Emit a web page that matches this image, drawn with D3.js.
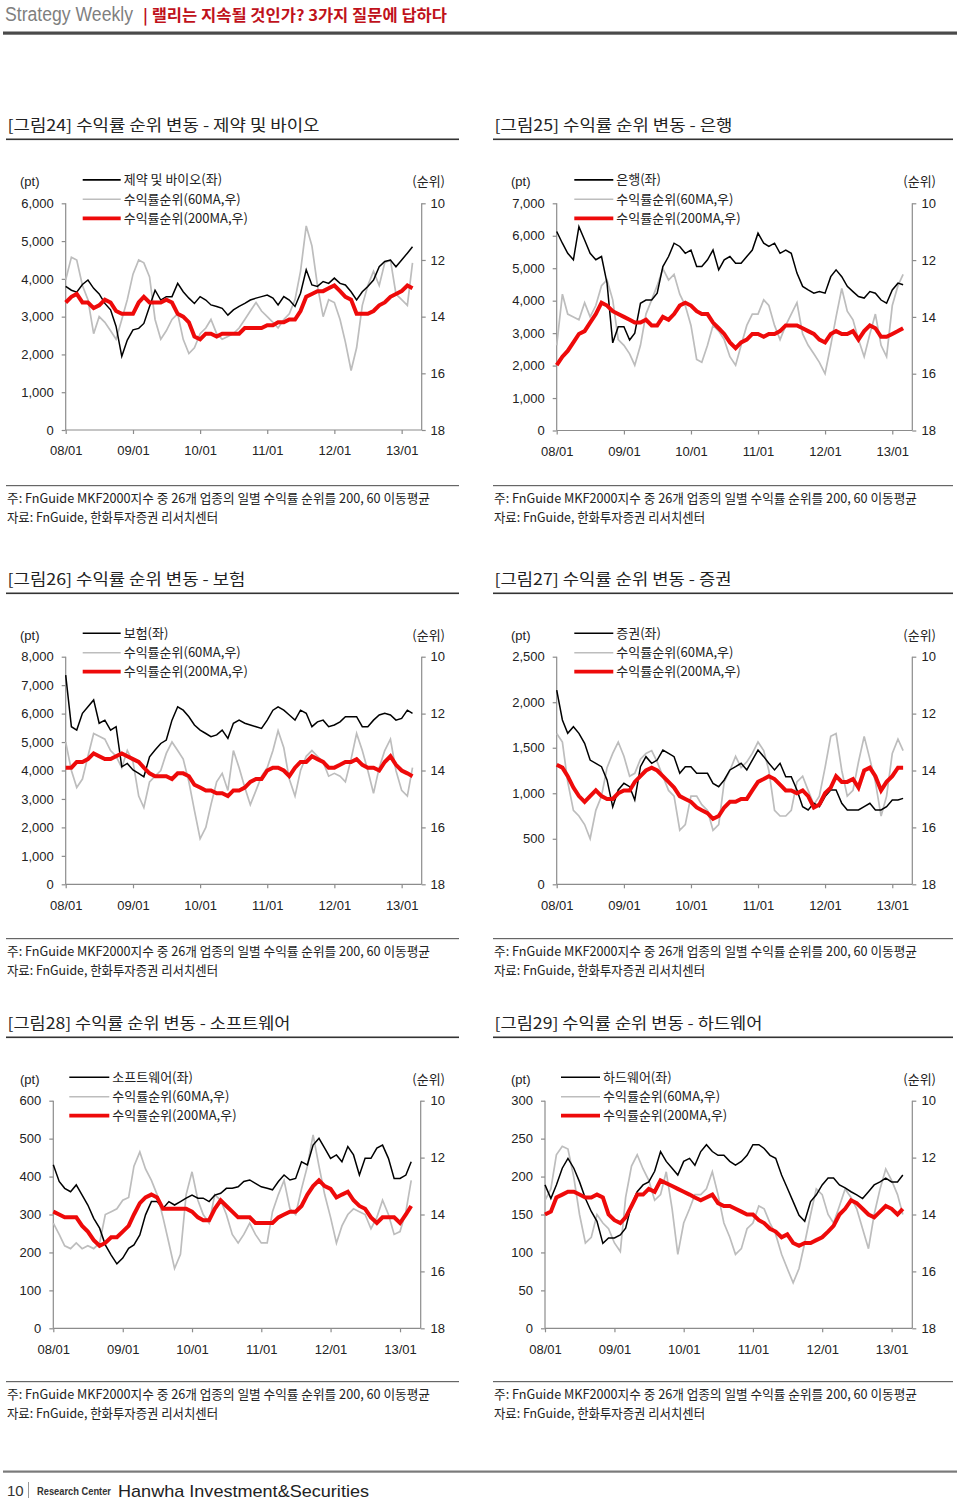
<!DOCTYPE html>
<html><head><meta charset="utf-8">
<script src="https://cdn.jsdelivr.net/npm/d3@7"></script>
<style>
body{margin:0;background:#fff}
svg{display:block}
text{font-family:"Liberation Sans",Arial,"Noto Sans CJK KR",sans-serif}
.kr{font-family:"Noto Sans CJK KR","Liberation Sans",sans-serif}
</style>
</head><body>
<svg id="c" width="960" height="1501"></svg>
<script>
// ---------- DATA (monthly readings, Jan 2008 – Mar 2013) ----------
const xTickLabels = ["08/01","09/01","10/01","11/01","12/01","13/01"];
const rankTicks = [10,12,14,16,18];

const pharmaIndex = [3800,3700,3650,3850,3970,3750,3600,3350,3180,2740,1950,2380,
2650,2690,2820,3270,3700,3440,3530,3530,3880,3660,3490,3350,
3530,3440,3310,3270,3220,3040,3180,3270,3350,3440,3490,3530,
3570,3490,3310,3530,3440,3270,3620,4240,3840,3800,3930,3880,
4020,3880,3840,3660,3440,3660,3800,3970,4320,4460,4500,4320,
4500,4680,4850];
const pharmaRank60 = [12.7,11.9,12.0,12.9,13.4,14.6,14.0,14.2,14.5,14.8,14.1,13.4,
12.5,12.0,12.1,12.6,14.1,14.8,14.5,14.1,13.9,14.8,15.3,15.1,
14.6,14.4,14.1,14.6,14.8,14.7,14.6,14.4,14.1,13.8,13.5,13.8,
14.0,14.2,14.4,14.1,13.9,13.4,12.4,10.8,11.5,12.9,14.0,13.4,
13.5,14.1,14.9,15.9,15.1,13.6,12.9,12.4,12.9,12.1,12.0,13.2,
13.4,13.6,12.1];
const pharmaRank200 = [13.5,13.3,13.2,13.5,13.5,13.7,13.6,13.4,13.5,13.8,13.9,13.9,
13.9,13.5,13.3,13.5,13.5,13.5,13.4,13.5,13.9,14.0,14.2,14.7,
14.8,14.6,14.6,14.7,14.6,14.6,14.6,14.6,14.4,14.4,14.4,14.4,
14.3,14.3,14.2,14.2,14.1,14.1,13.8,13.3,13.2,13.1,13.1,13.0,
12.9,13.1,13.3,13.4,13.9,13.9,13.9,13.8,13.6,13.5,13.3,13.2,
13.1,12.9,13.0];

const bankIndex = [6130,5770,5460,5260,6280,5870,5460,5260,5360,4540,2700,3200,
3200,2790,3000,3920,4020,4020,4230,5050,5360,5770,5670,5460,
5560,5050,5050,5260,5560,4950,5260,5360,5150,5150,5360,5560,
6080,5770,5670,5770,5460,5560,5460,4850,4440,4330,4230,4280,
4230,4740,4950,4740,4440,4280,4130,4080,4280,4230,4020,3920,
4330,4540,4490];
const bankRank60 = [15.0,13.2,13.9,14.0,14.1,13.5,14.0,13.6,12.9,12.7,13.4,14.8,
15.0,15.3,15.7,15.0,13.9,13.4,12.9,12.3,12.7,12.5,13.2,13.6,
14.3,15.5,15.6,15.0,14.3,14.5,14.8,15.4,15.7,15.0,14.3,13.9,
13.9,13.4,13.6,14.3,14.8,14.3,13.9,13.5,14.6,15.0,15.3,15.6,
16.0,15.0,14.0,13.0,13.8,14.1,14.8,15.4,14.6,13.9,15.0,15.4,
13.6,12.9,12.5];
const bankRank200 = [15.7,15.4,15.2,14.9,14.6,14.5,14.2,13.9,13.5,13.6,13.8,13.9,
14.0,14.1,14.2,14.2,14.1,14.3,14.3,14.0,14.1,13.9,13.6,13.5,
13.6,13.8,13.9,13.9,14.2,14.4,14.6,14.9,15.1,14.9,14.8,14.6,
14.6,14.7,14.6,14.6,14.5,14.3,14.3,14.3,14.4,14.5,14.6,14.8,
14.9,14.6,14.5,14.6,14.6,14.5,14.8,14.5,14.3,14.4,14.7,14.7,
14.6,14.5,14.4];

const insIndex = [7350,5540,5420,6010,6240,6480,5660,5770,5420,5540,4130,4250,
4020,3900,3780,4480,4720,4950,5070,5770,6240,6120,5890,5600,
5420,5300,5190,5250,5420,5130,5660,5770,5660,5600,5540,5480,
5770,6120,6240,6120,5950,5770,6120,6010,5540,5710,5770,5540,
5600,5710,5890,5890,5890,5540,5540,5770,5950,6010,5950,5770,
5830,6120,6010];
const insRank60 = [13.0,14.0,14.6,14.3,13.5,12.7,12.8,12.9,13.3,13.5,13.9,13.3,
13.7,14.9,15.3,14.4,14.2,14.0,13.4,13.0,13.3,13.6,14.4,15.4,
16.4,16.0,15.2,14.4,14.1,14.7,13.3,13.9,14.6,15.2,14.7,14.2,
13.9,13.3,12.6,13.2,14.3,14.9,14.0,13.5,13.3,13.5,13.7,14.2,
14.1,14.2,14.4,13.6,12.7,13.3,14.0,14.8,13.9,13.3,12.9,14.0,
14.7,14.9,13.9];
const insRank200 = [13.9,13.9,13.7,13.7,13.6,13.4,13.5,13.6,13.6,13.5,13.4,13.5,
13.6,13.7,13.9,14.1,14.2,14.2,14.2,14.3,14.1,14.1,14.2,14.5,
14.6,14.7,14.7,14.8,14.8,14.9,14.7,14.7,14.6,14.4,14.3,14.3,
14.0,13.9,13.9,14.0,14.2,13.9,13.7,13.7,13.5,13.6,13.7,13.9,
13.9,13.8,13.7,13.7,13.6,13.8,13.9,13.9,14.0,13.7,13.5,13.8,
14.0,14.1,14.2];

const secIndex = [2134,1805,1658,1731,1658,1548,1365,1329,1292,1146,850,1036,
1109,1072,926,1292,1402,1329,1365,1475,1438,1402,1219,1292,
1292,1219,1219,1219,1109,1072,1146,1256,1292,1329,1256,1365,
1475,1402,1329,1256,1329,1182,1182,1036,853,816,890,853,
963,1036,1036,890,816,816,816,853,890,816,816,853,
926,926,944];
const secRank60 = [12.7,13.0,14.4,15.4,15.6,15.9,16.4,15.4,14.9,13.9,13.4,13.0,
13.5,14.2,14.1,13.6,13.4,13.3,13.7,14.2,14.7,14.9,16.1,15.9,
14.9,14.9,15.2,15.4,16.1,15.9,14.4,14.0,13.5,13.9,13.7,13.4,
13.0,13.3,14.0,15.4,15.6,15.6,15.4,14.4,14.2,14.7,15.2,14.9,
13.9,12.8,12.7,14.0,14.9,14.7,13.7,12.8,13.6,14.4,15.6,14.9,
13.4,12.9,13.3];
const secRank200 = [13.8,13.9,14.2,14.6,14.9,15.1,14.9,14.7,14.9,15.0,15.0,14.8,
14.7,14.7,14.4,14.2,14.0,13.9,14.0,14.2,14.4,14.6,14.9,15.0,
15.1,15.3,15.4,15.5,15.7,15.6,15.3,15.1,15.1,15.0,15.0,14.7,
14.4,14.3,14.2,14.3,14.5,14.7,14.7,14.8,14.7,14.9,15.3,15.2,
14.8,14.6,14.2,14.4,14.4,14.3,14.6,14.0,13.9,14.2,14.7,14.4,
14.2,13.9,13.9];

const swIndex = [431,387,369,360,378,351,325,290,264,220,193,170,
185,211,220,246,299,334,334,316,334,325,334,343,
351,343,343,334,351,356,369,369,373,387,391,382,
373,369,365,387,404,391,395,439,431,483,501,475,
448,457,439,479,457,404,448,448,475,483,448,395,
395,404,439];
const swRank60 = [14.3,14.7,15.1,15.2,15.0,15.2,15.1,15.2,15.0,14.0,13.9,13.8,
13.5,13.4,12.3,11.8,12.4,12.8,13.3,14.1,15.0,15.9,15.4,13.3,
12.5,13.5,14.0,14.3,13.3,13.5,14.0,14.7,15.0,14.7,14.3,14.7,
15.0,15.0,13.9,13.3,12.8,13.8,14.0,13.1,12.3,11.2,12.3,13.3,
14.1,15.0,14.4,14.0,13.8,13.9,14.0,14.5,14.1,13.5,14.0,14.7,
14.6,13.9,12.8];
const swRank200 = [13.9,14.0,14.1,14.1,14.1,14.4,14.6,14.9,15.1,15.0,14.8,14.8,
14.6,14.4,14.0,13.6,13.4,13.3,13.4,13.8,13.8,13.8,13.8,13.8,
13.9,14.1,14.2,14.2,13.8,13.5,13.7,13.9,14.1,14.1,14.1,14.3,
14.3,14.3,14.3,14.1,14.0,13.9,13.9,13.7,13.3,13.0,12.8,13.0,
13.1,13.4,13.3,13.2,13.5,13.7,13.8,14.1,14.3,14.1,14.1,14.1,
14.3,14.0,13.7];

const hwIndex = [189,171,189,211,224,211,193,171,154,141,112,119,
119,123,132,163,180,189,193,207,233,220,211,202,
220,224,215,233,242,233,228,228,220,215,220,228,
242,242,237,228,224,202,185,167,149,141,167,176,
189,198,198,189,185,180,176,171,180,189,193,198,
193,193,202];
const hwRank60 = [13.5,13.1,11.9,11.6,11.7,12.7,14.0,15.0,14.8,14.0,14.3,14.5,
15.0,15.3,13.4,12.3,11.9,12.4,12.8,13.5,13.3,12.5,13.8,15.4,
14.3,13.8,13.3,13.3,13.1,12.5,13.3,14.3,14.8,15.4,15.2,14.5,
14.3,13.7,13.8,14.3,14.7,15.4,15.9,16.4,15.9,15.0,14.0,13.1,
13.3,14.0,14.3,13.7,13.1,13.4,13.8,14.5,15.2,14.0,13.1,12.4,
12.8,13.3,14.0];
const hwRank200 = [14.0,13.9,13.4,13.3,13.2,13.2,13.3,13.4,13.4,13.3,13.4,14.0,
14.2,14.3,14.1,13.7,13.3,13.3,13.1,13.2,12.8,12.9,13.0,13.1,
13.2,13.3,13.4,13.5,13.4,13.3,13.6,13.7,13.7,13.8,13.9,14.0,
14.0,14.2,14.3,14.5,14.6,14.8,14.7,15.0,15.1,15.0,15.0,14.9,
14.8,14.6,14.4,14.0,13.8,13.5,13.6,13.8,14.0,14.1,13.9,13.7,
13.8,14.0,13.8];

const noteText = "주: FnGuide MKF2000지수 중 26개 업종의 일별 수익률 순위를 200, 60 이동평균";
const sourceText = "자료: FnGuide, 한화투자증권 리서치센터";
const legend60 = "수익률순위(60MA,우)";
const legend200 = "수익률순위(200MA,우)";

// ---------- LAYOUT ----------
const svg = d3.select("#c");
svg.append("rect").attr("width",960).attr("height",1501).attr("fill","#fff");

// header
svg.append("text").attr("x",5).attr("y",21).attr("font-size",19.5).attr("fill","#7f7f7f")
  .attr("textLength",128).attr("lengthAdjust","spacingAndGlyphs").text("Strategy Weekly");
svg.append("text").attr("class","kr").attr("x",143).attr("y",21).attr("font-size",15.5)
  .attr("font-weight","bold").attr("fill","#c0121b")
  .attr("textLength",304).attr("lengthAdjust","spacingAndGlyphs")
  .text("| 랠리는 지속될 것인가? 3가지 질문에 답하다");
svg.append("rect").attr("x",3).attr("y",31.5).attr("width",954).attr("height",3.2).attr("fill","#4a4a4a");

// footer
svg.append("rect").attr("x",3).attr("y",1470.5).attr("width",954).attr("height",2.2).attr("fill","#7a7a7a");
svg.append("text").attr("x",7).attr("y",1496).attr("font-size",15).attr("fill","#333").text("10");
svg.append("line").attr("x1",28.5).attr("x2",28.5).attr("y1",1482).attr("y2",1498).attr("stroke","#999");
svg.append("text").attr("x",37).attr("y",1495).attr("font-size",10.5).attr("font-weight","bold")
  .attr("fill","#333").attr("textLength",74).attr("lengthAdjust","spacingAndGlyphs").text("Research Center");
svg.append("text").attr("x",118).attr("y",1497).attr("font-size",17).attr("fill","#222")
  .attr("textLength",251).attr("lengthAdjust","spacingAndGlyphs").text("Hanwha Investment&Securities");

const cols = [{x0:6, w:453, ptX:20, rankR:445}, {x0:493, w:460, ptX:511, rankR:936}];
const rows = [{title:125, note:485}, {title:579, note:938}, {title:1023, note:1381}];

const panels = [
  {col:0,row:0,title:"[그림24]  수익률 순위 변동 - 제약 및 바이오",tLen:312,name:"제약 및 바이오(좌)",
   idx:pharmaIndex,r60:pharmaRank60,r200:pharmaRank200,ymax:6000,ystep:1000,
   L:65.7,R:421.7,T:203.3,B:430,lx1:82.7,lx2:120.7},
  {col:1,row:0,title:"[그림25]  수익률 순위 변동 - 은행",tLen:238,name:"은행(좌)",
   idx:bankIndex,r60:bankRank60,r200:bankRank200,ymax:7000,ystep:1000,
   L:556.7,R:912.3,T:203.3,B:430.5,lx1:574.3,lx2:613.3},
  {col:0,row:1,title:"[그림26]  수익률 순위 변동 - 보험",tLen:238,name:"보험(좌)",
   idx:insIndex,r60:insRank60,r200:insRank200,ymax:8000,ystep:1000,
   L:65.7,R:421.7,T:656.7,B:884.3,lx1:82.7,lx2:120.7},
  {col:1,row:1,title:"[그림27]  수익률 순위 변동 - 증권",tLen:237,name:"증권(좌)",
   idx:secIndex,r60:secRank60,r200:secRank200,ymax:2500,ystep:500,
   L:556.7,R:912.3,T:656.7,B:884.3,lx1:574.3,lx2:613.3},
  {col:0,row:2,title:"[그림28]  수익률 순위 변동 - 소프트웨어",tLen:283,name:"소프트웨어(좌)",
   idx:swIndex,r60:swRank60,r200:swRank200,ymax:600,ystep:100,
   L:53.3,R:420.7,T:1100.7,B:1328.3,lx1:69.3,lx2:109.3},
  {col:1,row:2,title:"[그림29]  수익률 순위 변동 - 하드웨어",tLen:268,name:"하드웨어(좌)",
   idx:hwIndex,r60:hwRank60,r200:hwRank200,ymax:300,ystep:50,
   L:545,R:912.3,T:1100.7,B:1328.3,lx1:561,lx2:600}
];

const dates = d3.timeMonth.range(new Date(2008,0,1), new Date(2013,3,1));
const xTickDates = xTickLabels.map((l,i)=>new Date(2008+i,0,1));
const axisCol = "#8c8c8c";

panels.forEach(p=>{
  const c = cols[p.col], r = rows[p.row];
  const g = svg.append("g");
  // title + underline
  g.append("text").attr("class","kr").attr("x",c.x0+1.5).attr("y",r.title+6).attr("font-size",15.5)
    .attr("fill","#222").attr("textLength",p.tLen).attr("lengthAdjust","spacingAndGlyphs").text(p.title);
  g.append("rect").attr("x",c.x0).attr("y",r.title+13.5).attr("width",c.w).attr("height",1.6).attr("fill","#333");
  // notes
  g.append("rect").attr("x",c.x0).attr("y",r.note).attr("width",c.w).attr("height",1.2).attr("fill","#666");
  g.append("text").attr("class","kr").attr("x",c.x0+1).attr("y",r.note+18).attr("font-size",13)
    .attr("fill","#222").attr("textLength",423).attr("lengthAdjust","spacingAndGlyphs").text(noteText);
  g.append("text").attr("class","kr").attr("x",c.x0+1).attr("y",r.note+37).attr("font-size",13)
    .attr("fill","#222").attr("textLength",211).attr("lengthAdjust","spacingAndGlyphs").text(sourceText);

  // scales
  const x = d3.scaleTime().domain([new Date(2008,0,1), new Date(2013,3,20)]).range([p.L,p.R]);
  const yL = d3.scaleLinear().domain([0,p.ymax]).range([p.B,p.T]);
  const yR = d3.scaleLinear().domain([10,18]).range([p.T,p.B]);

  // left axis
  const leftTicks = d3.range(0,p.ymax+1,p.ystep);
  const ax = g.append("g").attr("transform",`translate(${p.L},0)`)
    .call(d3.axisLeft(yL).tickValues(leftTicks).tickSize(4).tickPadding(8).tickFormat(d3.format(",")));
  // right axis
  const ar = g.append("g").attr("transform",`translate(${p.R},0)`)
    .call(d3.axisRight(yR).tickValues(rankTicks).tickSize(4).tickPadding(0).tickFormat(d3.format("d")));
  ar.selectAll("text").attr("text-anchor","end").attr("x",c.rankR-p.R);
  // bottom axis
  const ab = g.append("g").attr("transform",`translate(0,${p.B})`)
    .call(d3.axisBottom(x).tickValues(xTickDates).tickSize(4).tickPadding(12)
      .tickFormat((d,i)=>xTickLabels[i]));
  [ax,ar,ab].forEach(a=>{
    a.selectAll("path.domain").attr("stroke",axisCol).attr("stroke-width",1.2);
    a.selectAll(".tick line").attr("stroke",axisCol).attr("stroke-width",1.2);
    a.selectAll("text").attr("font-size",13).attr("fill","#222")
      .attr("font-family","'Liberation Sans',Arial,sans-serif");
  });
  ab.selectAll("path.domain").attr("d",`M${p.L},0H${p.R}`);
  ax.selectAll("path.domain").attr("d",`M0,${p.T}V${p.B}`);
  ar.selectAll("path.domain").attr("d",`M0,${p.T}V${p.B}`);

  // unit labels
  g.append("text").attr("x",c.ptX).attr("y",p.T-17).attr("font-size",13).attr("fill","#222").text("(pt)");
  g.append("text").attr("class","kr").attr("x",c.rankR).attr("y",p.T-17).attr("font-size",13)
    .attr("text-anchor","end").attr("fill","#222").text("(순위)");

  // lines
  const lineL = d3.line().x((d,i)=>x(dates[i])).y(d=>yL(d));
  const lineR = d3.line().x((d,i)=>x(dates[i])).y(d=>yR(d));
  g.append("path").datum(p.r60).attr("d",lineR).attr("fill","none").attr("stroke","#bdbdbd").attr("stroke-width",1.7);
  g.append("path").datum(p.idx).attr("d",lineL).attr("fill","none").attr("stroke","#000").attr("stroke-width",1.5);
  g.append("path").datum(p.r200).attr("d",lineR).attr("fill","none").attr("stroke","#ee0a0a").attr("stroke-width",4);

  // legend
  const leg = [{t:p.name,c:"#000",w:1.6,dy:-23.4},{t:legend60,c:"#bdbdbd",w:1.6,dy:-4},{t:legend200,c:"#ee0a0a",w:3.8,dy:15}];
  leg.forEach(l=>{
    const yy = p.T + l.dy;
    g.append("line").attr("x1",p.lx1).attr("x2",p.lx2).attr("y1",yy).attr("y2",yy)
      .attr("stroke",l.c).attr("stroke-width",l.w);
    g.append("text").attr("class","kr").attr("x",p.lx2+3).attr("y",yy+4.5).attr("font-size",13)
      .attr("fill","#222").text(l.t);
  });
});
</script>
</body></html>
